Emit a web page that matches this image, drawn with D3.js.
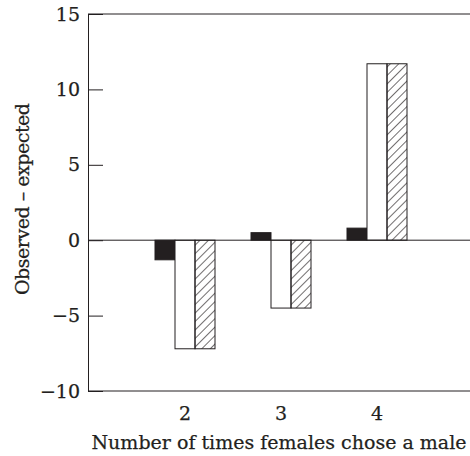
<!DOCTYPE html>
<html>
<head>
<meta charset="utf-8">
<script src="https://cdn.jsdelivr.net/npm/d3@7"></script>
<style>
  body { margin: 0; background: #fff; }
  text { font-family: "DejaVu Serif", "Liberation Serif", serif; fill: #231f20; stroke: #231f20; stroke-width: 0.25; }
</style>
</head>
<body>
<div id="container"></div>
<script>
// DATA
const categories = [2, 3, 4];
const seriesNames = ["black", "open", "hatched"];
const blackValues = [-1.3, 0.5, 0.8];
const openValues = [-7.2, -4.5, 11.7];
const hatchedValues = [-7.2, -4.5, 11.7];
const yTicks = [-10, -5, 0, 5, 10, 15];

const width = 470,
  height = 456,
  margin = { top: 14, bottom: 65, left: 88, right: 0 };

const data = categories.map((c, i) => ({
  cat: c,
  values: [blackValues[i], openValues[i], hatchedValues[i]]
}));

// SCALES
const xScale = d3.scaleLinear()
  .domain([1, 5])
  .range([margin.left + 1, width + 3]);

const yScale = d3.scaleLinear()
  .domain([-10, 15])
  .range([height - margin.bottom, margin.top]);

const barWidth = 20;
const sub = d3.scaleBand()
  .domain(seriesNames)
  .range([-1.5 * barWidth, 1.5 * barWidth]);

const svg = d3.select("#container")
  .append("svg")
  .attr("width", width)
  .attr("height", height);

// hatch pattern, "/" direction
svg.append("defs")
  .append("pattern")
  .attr("id", "hatch")
  .attr("patternUnits", "userSpaceOnUse")
  .attr("width", 6)
  .attr("height", 6)
  .attr("patternTransform", "rotate(45)")
  .append("line")
  .attr("x1", 0).attr("y1", 0)
  .attr("x2", 0).attr("y2", 6)
  .attr("stroke", "#231f20")
  .attr("stroke-width", 1.3);

const fills = { black: "#231f20", open: "#fff", hatched: "url(#hatch)" };

// BARS
const groups = svg.selectAll("g.group")
  .data(data)
  .join("g")
  .attr("class", "group")
  .attr("transform", d => `translate(${xScale(d.cat)},0)`);

groups.selectAll("rect")
  .data(d => d.values.map((v, j) => ({ key: seriesNames[j], v })))
  .join("rect")
  .attr("x", d => sub(d.key))
  .attr("width", sub.bandwidth())
  .attr("y", d => yScale(Math.max(0, d.v)))
  .attr("height", d => Math.abs(yScale(d.v) - yScale(0)))
  .attr("fill", d => fills[d.key])
  .attr("stroke", "#231f20")
  .attr("stroke-width", 1);

// AXES
const yAxis = d3.axisRight(yScale)
  .tickValues(yTicks)
  .tickSize(15)
  .tickFormat(d => d < 0 ? "\u2212" + Math.abs(d) : d);

const yAxisGroup = svg.append("g")
  .attr("transform", `translate(${margin.left}, 0)`)
  .call(yAxis);
yAxisGroup.select(".domain").attr("stroke", "#231f20");
yAxisGroup.selectAll(".tick line").attr("stroke", "#231f20");
yAxisGroup.selectAll(".tick text")
  .attr("x", -8)
  .attr("text-anchor", "end")
  .attr("font-size", 19);

// top, zero and bottom lines
[15, 0, -10].forEach(v => {
  svg.append("line")
    .attr("x1", margin.left)
    .attr("x2", width)
    .attr("y1", yScale(v))
    .attr("y2", yScale(v))
    .attr("stroke", "#231f20")
    .attr("stroke-width", 1);
});

// x tick labels
svg.selectAll("text.xlab")
  .data(categories)
  .join("text")
  .attr("class", "xlab")
  .attr("x", d => xScale(d))
  .attr("y", 420)
  .attr("text-anchor", "middle")
  .attr("font-size", 19)
  .text(d => d);

// axis titles
svg.append("text")
  .attr("x", 279)
  .attr("y", 449)
  .attr("text-anchor", "middle")
  .attr("font-size", 19)
  .attr("textLength", 375)
  .text("Number of times females chose a male");

svg.append("text")
  .attr("transform", "translate(29,199) rotate(-90)")
  .attr("text-anchor", "middle")
  .attr("font-size", 19)
  .attr("textLength", 192)
  .text("Observed \u2013 expected");
</script>
</body>
</html>
